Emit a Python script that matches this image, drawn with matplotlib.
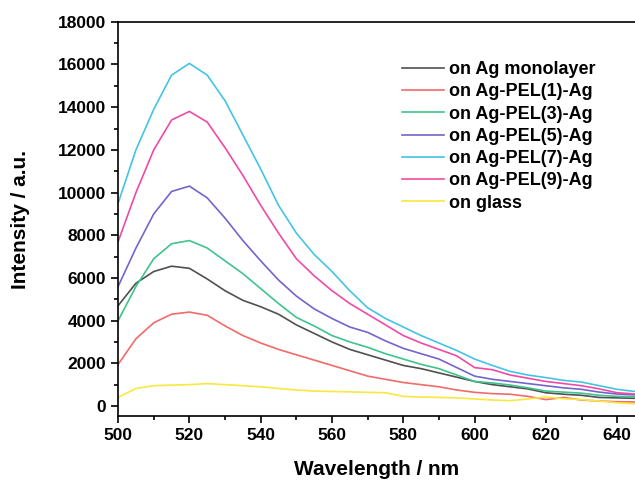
import numpy as np
import matplotlib.pyplot as plt
from matplotlib.ticker import MultipleLocator

plt.rcParams['font.family'] = ['Liberation Sans', 'DejaVu Sans']

wavelength = np.arange(500, 646, 5)

monolayer = [4700, 5750, 6300, 6550, 6450, 5950, 5400, 4950, 4650, 4300,
             3800, 3400, 3000, 2650, 2400, 2150, 1900, 1750, 1550, 1350,
             1150, 1000, 900, 800, 620, 550, 500, 400, 380, 360]
pel1 = [1950, 3150, 3900, 4300, 4400, 4250, 3750, 3300, 2950, 2650,
        2400, 2150, 1900, 1650, 1400, 1250, 1100, 1000, 900, 750,
        640, 580, 550, 450, 300, 400, 280, 230, 200, 190]
pel3 = [4000, 5600, 6900, 7600, 7750, 7400, 6800, 6200, 5500, 4800,
        4150, 3750, 3300, 3000, 2750, 2450, 2200, 1950, 1750, 1450,
        1150, 1080, 980, 850, 700, 650, 600, 500, 450, 430]
pel5 = [5600, 7400, 9000, 10050, 10300, 9750, 8800, 7750, 6800, 5900,
        5150, 4550, 4100, 3700, 3450, 3050, 2700, 2450, 2200, 1800,
        1400, 1250, 1150, 1050, 950, 850, 780, 650, 560, 520]
pel7 = [9500, 12000, 13900, 15500, 16050, 15500, 14300, 12700, 11100, 9400,
        8100, 7100, 6300, 5400, 4600, 4100, 3700, 3300, 2950, 2600,
        2200, 1900, 1620, 1450, 1330, 1200, 1120, 950, 780, 680]
pel9 = [7700, 10000, 12000, 13400, 13800, 13300, 12100, 10800, 9400, 8100,
        6900, 6100, 5400, 4800, 4300, 3800, 3300, 2950, 2650, 2350,
        1800, 1700, 1450, 1300, 1150, 1050, 950, 800, 620, 560]
glass = [400, 820, 950, 980, 1000, 1050, 1000, 950, 900, 820,
         750, 700, 680, 660, 640, 620, 450, 420, 400, 380,
         330, 280, 250, 330, 420, 340, 300, 230, 150, 100]

series = [
    ('on Ag monolayer', monolayer, '#505050'),
    ('on Ag-PEL(1)-Ag', pel1, '#f26a6a'),
    ('on Ag-PEL(3)-Ag', pel3, '#3ec48c'),
    ('on Ag-PEL(5)-Ag', pel5, '#7464cc'),
    ('on Ag-PEL(7)-Ag', pel7, '#44c4e4'),
    ('on Ag-PEL(9)-Ag', pel9, '#f04aa4'),
    ('on glass', glass, '#f8e840'),
]

fig = plt.figure(figsize=(6.35, 4.84), dpi=100)
ax = fig.add_axes([0.186, 0.14, 0.814, 0.815])

for label, vals, color in series:
    ax.plot(wavelength, vals, color=color, lw=1.2, label=label,
            solid_joinstyle='round')

ax.set_xlim(500, 645)
ax.set_ylim(-480, 18000)
ax.xaxis.set_major_locator(MultipleLocator(20))
ax.xaxis.set_minor_locator(MultipleLocator(10))
ax.yaxis.set_major_locator(MultipleLocator(2000))
ax.yaxis.set_minor_locator(MultipleLocator(1000))
ax.tick_params(which='both', direction='out', top=False, right=False, width=1.2)
ax.tick_params(which='major', length=5, labelsize=12.5)
ax.tick_params(which='minor', length=3)
for lbl in ax.get_xticklabels() + ax.get_yticklabels():
    lbl.set_fontweight('bold')
for side in ['left', 'bottom', 'top']:
    ax.spines[side].set_linewidth(1.2)
ax.spines['right'].set_visible(False)

ax.set_xlabel('Wavelength / nm', fontsize=15, fontweight='bold', labelpad=12)
ax.set_ylabel('Intensity / a.u.', fontsize=15, fontweight='bold', labelpad=20)

ax.legend(loc='upper left', bbox_to_anchor=(0.55, 0.9), frameon=False,
          prop={'weight': 'bold', 'size': 13}, handlelength=2.3,
          labelspacing=0.29, handletextpad=0.3, borderpad=0, borderaxespad=0)

fig.savefig('out.png', dpi=100)
